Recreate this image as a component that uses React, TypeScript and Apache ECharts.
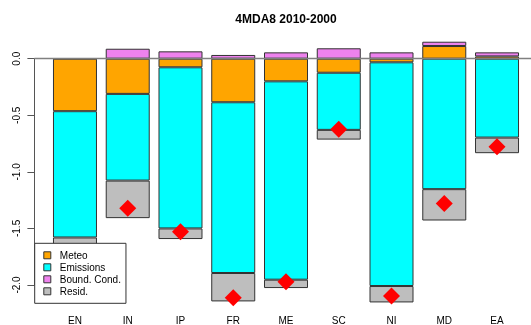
import React, { useEffect, useRef } from "react";
import * as echarts from "echarts";

const categories = ["EN", "IN", "IP", "FR", "ME", "SC", "NI", "MD", "EA"];
const meteo = [-0.464, -0.311, -0.076, -0.385, -0.2, -0.124, -0.032, 0.112, 0.02];
const emissions = [-1.116, -0.766, -1.424, -1.509, -1.753, -0.505, -1.977, -1.153, -0.697];
const boundCond = [0.003, 0.088, 0.065, 0.033, 0.056, 0.092, 0.056, 0.038, 0.036];
const resid = [-0.14, -0.332, -0.094, -0.251, -0.074, -0.086, -0.145, -0.277, -0.138];
const seriesNames = ["Meteo", "Emissions", "Bound. Cond.", "Resid."];
const seriesColors = ["#FFA500", "#00FFFF", "#EE82EE", "#BEBEBE"];
const titleText = "4MDA8 2010-2000";

const FONT = "'Liberation Sans', Arial, Helvetica, sans-serif";

export default function App() {
  const ref = useRef<HTMLDivElement>(null);

  useEffect(() => {
    if (!ref.current) return;
    const chart = echarts.init(ref.current, undefined, { renderer: "svg" });
    const parts = [meteo, emissions, boundCond, resid];
    const totals = categories.map((_, i) =>
      parts.reduce((s, arr) => s + arr[i], 0)
    );

    const barSeries = parts.map((arr, k) => ({
      name: seriesNames[k],
      type: "bar",
      stack: "total",
      stackStrategy: "samesign",
      xAxisIndex: 0,
      yAxisIndex: 0,
      barWidth: 44,
      clip: false,
      data: arr,
      itemStyle: {
        color: seriesColors[k],
        borderColor: "#333",
        borderWidth: 1,
      },
      emphasis: { disabled: true },
      z: 2,
    }));

    chart.setOption({
      animation: false,
      textStyle: { fontFamily: FONT },
      graphic: [
        {
          type: "text",
          x: 286,
          y: 19,
          style: {
            text: titleText,
            font: `bold 12px ${FONT}`,
            fill: "#000",
            textAlign: "center",
            textVerticalAlign: "middle",
          },
        },
      ],
      grid: [
        { left: 48.6, right: 7.6, top: 58.7, bottom: 39.7 },
        { left: 34.4, right: 0, top: 58.7, bottom: 39.7 },
      ],
      xAxis: [
        {
          type: "category",
          gridIndex: 0,
          data: categories,
          axisLine: { show: false },
          axisTick: { show: false },
          axisLabel: {
            margin: 30,
            fontSize: 10,
            color: "#000",
            fontFamily: FONT,
          },
        },
        {
          type: "value",
          gridIndex: 1,
          min: 0,
          max: 1,
          show: false,
        },
      ],
      yAxis: [
        {
          type: "value",
          gridIndex: 0,
          min: -2,
          max: 0,
          interval: 0.5,
          offset: 14.2,
          splitLine: { show: false },
          axisLine: { show: true, lineStyle: { color: "#555", width: 1 } },
          axisTick: { show: true, length: 7, lineStyle: { color: "#555", width: 1 } },
          axisLabel: {
            rotate: 90,
            margin: 13,
            fontSize: 10,
            color: "#000",
            fontFamily: FONT,
            formatter: (v: number) => v.toFixed(1),
          },
        },
        {
          type: "value",
          gridIndex: 1,
          min: -2,
          max: 0,
          show: false,
        },
      ],
      legend: {
        data: seriesNames,
        orient: "vertical",
        left: 34.7,
        top: 243.3,
        icon: "rect",
        itemWidth: 7,
        itemHeight: 7,
        itemGap: 0,
        padding: [6, 5, 6, 8.6],
        backgroundColor: "#fff",
        borderColor: "#333",
        borderWidth: 1,
        borderRadius: 0,
        selectedMode: false,
        itemStyle: { borderColor: "#333", borderWidth: 1 },
        textStyle: {
          fontSize: 10,
          color: "#000",
          fontFamily: FONT,
          lineHeight: 12,
          padding: [0, 0, 0, 4],
        },
        z: 10,
      },
      series: [
        ...barSeries,
        {
          name: "total",
          type: "scatter",
          xAxisIndex: 0,
          yAxisIndex: 0,
          symbol: "diamond",
          symbolSize: 17,
          clip: false,
          data: totals,
          itemStyle: { color: "#FF0000", opacity: 1 },
          emphasis: { disabled: true },
          z: 4,
        },
        {
          name: "zero",
          type: "line",
          xAxisIndex: 1,
          yAxisIndex: 1,
          data: [],
          silent: true,
          z: 5,
          markLine: {
            silent: true,
            symbol: ["none", "none"],
            label: { show: false },
            lineStyle: { color: "#808080", width: 1.3, type: "solid" },
            emphasis: { disabled: true },
            data: [{ yAxis: 0 }],
          },
        },
      ],
    });

    return () => chart.dispose();
  }, []);

  return (
    <div
      ref={ref}
      style={{ position: "fixed", left: 0, top: 0, width: 531, height: 325 }}
    />
  );
}
